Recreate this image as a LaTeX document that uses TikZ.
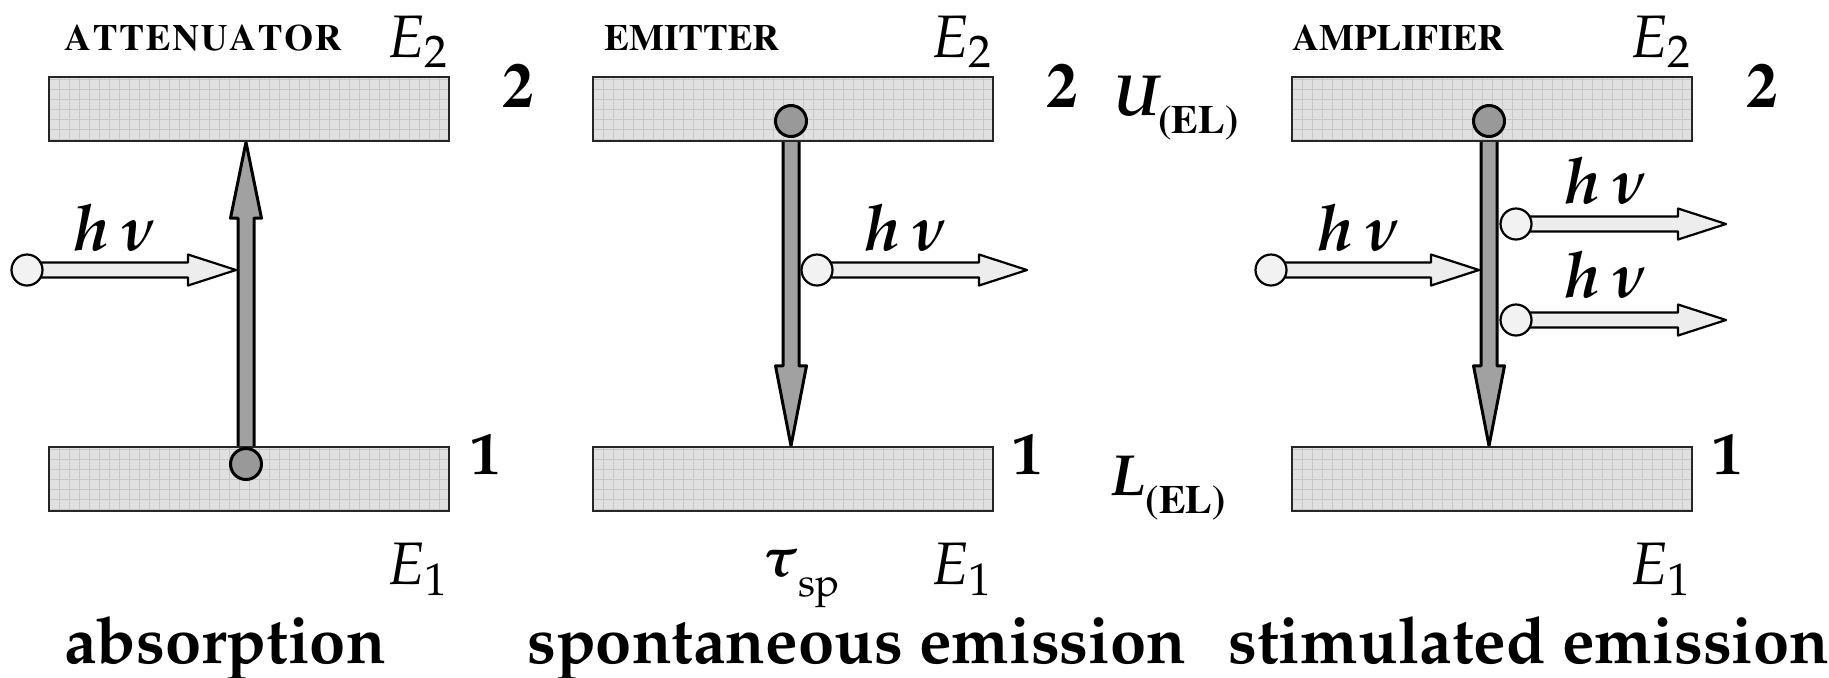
\documentclass[tikz,border=0pt]{standalone}
\usepackage[T1]{fontenc}
\usepackage{mathpazo}
\usepackage{bm}
\usetikzlibrary{calc,backgrounds}

% fat outlined arrow: style, from, to, half shaft, half head, head length
\newcommand{\fatarrow}[6]{%
  \coordinate (fa-b) at ($(#3)!#6!(#2)$);
  \filldraw[#1] ($(#2)!#4!90:(#3)$) -- ($(fa-b)!#4!90:(#3)$) -- ($(fa-b)!#5!90:(#3)$) -- (#3)
    -- ($(fa-b)!#5!-90:(#3)$) -- ($(fa-b)!#4!-90:(#3)$) -- ($(#2)!#4!-90:(#3)$) -- cycle;
}
\newcommand{\elsub}{\raisebox{-9pt}{\fontfamily{ptm}\fontseries{b}\upshape\fontsize{20}{24}\selectfont (EL)}}

\begin{document}
\begin{tikzpicture}[
  x=0.5pt, y=-0.5pt,
  level/.style={draw=black!85, line width=1.2pt, fill=black!12, minimum width=200pt, minimum height=32pt, inner sep=0pt,
    path picture={\draw[black!22, line width=0.35pt, step=5pt] (path picture bounding box.south west) grid (path picture bounding box.north east);}},
  electron/.style={circle, draw, line width=1.5pt, fill=black!40, minimum size=15.5pt, inner sep=0pt},
  photon/.style={circle, draw, line width=1.1pt, fill=black!5, minimum size=15.5pt, inner sep=0pt},
  trans/.style={draw=black, line width=1.5pt, fill=black!37, line join=round},
  light/.style={draw=black, line width=1.1pt, fill=black!7, line join=round},
  lbl/.style={inner sep=0pt, anchor=base west},
  headline/.style={font=\fontfamily{ptm}\fontseries{b}\fontsize{18.5}{22}\selectfont},
  bignum/.style={font=\fontfamily{ptm}\fontseries{b}\fontsize{31.5}{36}\selectfont},
  smallnum/.style={font=\bfseries\fontsize{30}{36}\selectfont},
  energy/.style={font=\fontsize{30}{36}\selectfont},
  boldit/.style={font=\bfseries\itshape\fontsize{29}{34}\selectfont},
  hnu/.style={font=\fontsize{32}{38}\selectfont},
  capt/.style={font=\bfseries\fontsize{32.5}{38}\selectfont}
]
\useasboundingbox (0,0) rectangle (1829,677);

% energy levels
\node[level] (up1) at (249,109) {};
\node[level] (lo1) at (249,479) {};
\node[level] (up2) at (793,109) {};
\node[level] (lo2) at (793,479) {};
\node[level] (up3) at (1492,109) {};
\node[level] (lo3) at (1492,479) {};

% electrons and photons
\node[electron] (e1) at (246,464) {};
\node[electron] (e2) at (791,121) {};
\node[electron] (e3) at (1489,121) {};
\node[photon] (p1) at (27,270) {};
\node[photon] (p2) at (817,270) {};
\node[photon] (p3) at (1271,270) {};
\node[photon] (p4) at (1516,224) {};
\node[photon] (p5) at (1516,320) {};

\coordinate (t1) at (e1 |- up1.south);
\coordinate (t2) at (e2 |- lo2.north);
\coordinate (t3) at (e3 |- lo3.north);
\coordinate (q1) at (236,270);
\coordinate (q2) at (1027,270);
\coordinate (q3) at (1479,270);
\coordinate (q4) at (1726,224);
\coordinate (q5) at (1726,320);

\begin{scope}[on background layer]
  \fatarrow{trans}{e1.center}{t1}{4pt}{7.75pt}{38pt}
  \fatarrow{trans}{e2.center}{t2}{4pt}{7.75pt}{40pt}
  \fatarrow{trans}{e3.center}{t3}{4pt}{7.75pt}{40pt}
  \fatarrow{light}{p1.center}{q1}{3.75pt}{7.75pt}{24pt}
  \fatarrow{light}{p2.center}{q2}{3.75pt}{7.75pt}{24pt}
  \fatarrow{light}{p3.center}{q3}{3.75pt}{7.75pt}{24pt}
  \fatarrow{light}{p4.center}{q4}{3.75pt}{7.75pt}{24pt}
  \fatarrow{light}{p5.center}{q5}{3.75pt}{7.75pt}{24pt}
\end{scope}

% labels
\node[lbl, headline] (ttl1) at (64,50) {A\kern.9pt T\kern.9pt T\kern.9pt E\kern.9pt N\kern.9pt U\kern.9pt A\kern.9pt T\kern.9pt O\kern.9pt R};
\node[lbl, headline] (ttl2) at (604,50) {EMITTER};
\node[lbl, headline] (ttl3) at (1292,50) {AMPLIFIER};
\node[lbl, energy, anchor=base east] (eu1) at (449,57) {$E_2$};
\node[lbl, energy, anchor=base east] (eu2) at (993,57) {$E_2$};
\node[lbl, energy, anchor=base east] (eu3) at (1692,57) {$E_2$};
\node[lbl, energy, anchor=base east] (el1) at (449,584) {$E_1$};
\node[lbl, energy, anchor=base east] (el2) at (993,584) {$E_1$};
\node[lbl, energy, anchor=base east] (el3) at (1692,584) {$E_1$};
\node[lbl, bignum] (nu1) at (502,107) {2};
\node[lbl, bignum] (nu2) at (1046,107) {2};
\node[lbl, bignum] (nu3) at (1746,107) {2};
\node[lbl, smallnum] (nl1) at (470,474) {1};
\node[lbl, smallnum] (nl2) at (1012,474) {1};
\node[lbl, smallnum] (nl3) at (1712,474) {1};
\node[lbl, boldit] (uel) at (1113,115) {U\elsub};
\node[lbl, boldit] (lel) at (1110,495) {L\elsub};
\node[lbl, font=\fontsize{28}{32}\selectfont] (tau) at (762,576) {$\bm{\tau}$\raisebox{-10pt}{\fontsize{20}{24}\selectfont sp}};
\node[lbl, hnu] (h1) at (72,250) {$\bm{h}\,\bm{\nu}$};
\node[lbl, hnu] (h2) at (863,250) {$\bm{h}\,\bm{\nu}$};
\node[lbl, hnu] (h3) at (1316,250) {$\bm{h}\,\bm{\nu}$};
\node[lbl, hnu] (h4) at (1563,203) {$\bm{h}\,\bm{\nu}$};
\node[lbl, hnu] (h5) at (1563,297) {$\bm{h}\,\bm{\nu}$};
\node[lbl, capt] (c1) at (64,663) {absorption};
\node[lbl, capt] (c2) at (527,663) {spontaneous emission};
\node[lbl, capt] (c3) at (1228,663) {stimulated emission};
\end{tikzpicture}
\end{document}
